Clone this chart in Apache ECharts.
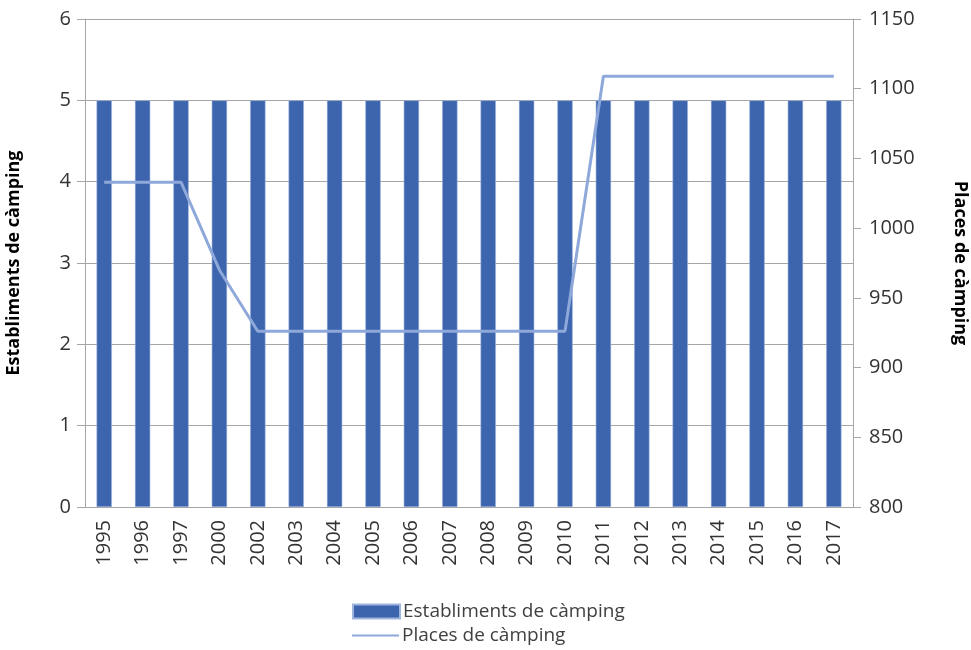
<!DOCTYPE html>
<html>
<head>
<meta charset="utf-8">
<script src="https://cdn.jsdelivr.net/npm/echarts@6/dist/echarts.min.js"></script>
<style>
  html, body { margin: 0; padding: 0; background: #fff; }
  #chart { width: 971px; height: 650px; }
</style>
</head>
<body>
<div id="chart"></div>
<script>
const years = ['1995','1996','1997','2000','2002','2003','2004','2005','2006','2007',
               '2008','2009','2010','2011','2012','2013','2014','2015','2016','2017'];
const establiments = [5,5,5,5,5,5,5,5,5,5,5,5,5,5,5,5,5,5,5,5];
const places = [1033,1033,1033,970,926,926,926,926,926,926,926,926,926,1109,1109,1109,1109,1109,1109,1109];

const font = '"Open Sans", sans-serif';
const axisGray = '#a6a6a6';
const legendText = { fontFamily: font, fontSize: 19, color: '#404040', padding: [0, 0, 0, -2] };

const chart = echarts.init(document.getElementById('chart'));
chart.setOption({
  animation: false,
  textStyle: { fontFamily: font },
  grid: { left: 85, right: 118, top: 19, bottom: 143, outerBoundsMode: 'none', containLabel: false },
  legend: [{
    left: 347,
    top: 597,
    itemWidth: 47,
    itemHeight: 14,
    icon: 'rect',
    textStyle: legendText,
    data: ['Establiments de càmping']
  }, {
    left: 347,
    top: 621,
    itemWidth: 47,
    itemHeight: 20,
    icon: 'path://M0,9 L47,9 L47,11 L0,11 Z',
    textStyle: legendText,
    data: ['Places de càmping']
  }],
  xAxis: {
    type: 'category',
    data: years,
    axisLine: { lineStyle: { color: axisGray } },
    axisTick: { show: false },
    axisLabel: { rotate: 90, fontSize: 20, color: '#333', margin: 13 }
  },
  yAxis: [{
    type: 'value',
    min: 0, max: 6, interval: 1,
    name: 'Establiments de càmping',
    nameLocation: 'middle',
    nameGap: 62,
    nameTextStyle: { fontFamily: font, fontSize: 18, fontWeight: 'bold', color: '#000' },
    axisLine: { show: true, lineStyle: { color: axisGray } },
    axisTick: { show: true, length: 8, lineStyle: { color: axisGray } },
    axisLabel: { fontSize: 20, color: '#333', margin: 14 },
    splitLine: { lineStyle: { color: '#a6a6a6' } }
  }, {
    type: 'value',
    min: 800, max: 1150, interval: 50,
    name: 'Places de càmping',
    nameLocation: 'middle',
    nameGap: 98,
    nameRotate: -90,
    nameTextStyle: { fontFamily: font, fontSize: 18, fontWeight: 'bold', color: '#000' },
    axisLine: { show: true, lineStyle: { color: axisGray } },
    axisTick: { show: true, length: 8, lineStyle: { color: axisGray } },
    axisLabel: { fontSize: 20, color: '#333', margin: 16, formatter: v => String(v) },
    splitLine: { show: false }
  }],
  series: [{
    name: 'Establiments de càmping',
    type: 'bar',
    data: establiments,
    barWidth: '40%',
    itemStyle: { color: '#3c65ad', borderColor: '#9fb5de', borderWidth: 0.6 }
  }, {
    name: 'Places de càmping',
    type: 'line',
    yAxisIndex: 1,
    data: places,
    symbol: 'none',
    lineStyle: { color: '#8fa8da', width: 3 },
    itemStyle: { color: '#8fa8da' }
  }]
});
</script>
</body>
</html>
